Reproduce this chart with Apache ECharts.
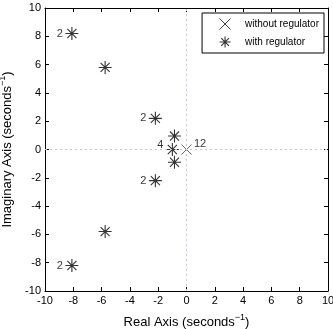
<!DOCTYPE html>
<html>
<head>
<meta charset="utf-8">
<script src="https://cdn.jsdelivr.net/npm/echarts@6/dist/echarts.min.js"></script>
<style>
  html, body { margin: 0; padding: 0; background: #fff; }
  #chart { width: 333px; height: 329px; }
</style>
</head>
<body>
<div id="chart"></div>
<script>
// pole data
const withoutRegPoles = [[0, 0]];
const withoutRegMult = ['12'];
const withRegPoles = [[-8.1, 8.2], [-5.75, 5.8], [-2.2, 2.2], [-1.0, 0], [-0.85, 0.95], [-0.85, -0.9], [-2.2, -2.2], [-5.75, -5.8], [-8.1, -8.2]];
const withRegMult = ['2', '', '2', '4', '', '', '2', '', '2'];
const axisMin = -10, axisMax = 10, axisStep = 2;

const starPath = 'path://M0 5L10 5M5 0L5 10M1.5 1.5L8.5 8.5M1.5 8.5L8.5 1.5';
const crossPath = 'path://M0 0L10 10M0 10L10 0';
const font = 'Liberation Sans, Arial, sans-serif';

const chart = echarts.init(document.getElementById('chart'));

function axisName(txt) {
  return '{a|' + txt + ' (seconds}{s|−1}{a|)}';
}
const nameRich = {
  a: { fontSize: 13, fontFamily: font, color: '#000' },
  s: { fontSize: 9, fontFamily: font, color: '#000', padding: [0, 0, 10, 0] }
};

function valAxis(extra) {
  return Object.assign({
    type: 'value', min: axisMin, max: axisMax, interval: axisStep,
    axisLine: { show: true, onZero: false, lineStyle: { color: '#000', width: 1 } },
    axisTick: { show: true, inside: true, length: 4, lineStyle: { color: '#000' } },
    axisLabel: { color: '#000', fontSize: 11, fontFamily: font, margin: 4 },
    splitLine: { show: false }
  }, extra);
}

function labelsFor(mult, pos) {
  return mult.map(function (m) {
    return { show: m !== '', formatter: m, position: pos, distance: 0, color: '#000', fontSize: 11, fontFamily: font };
  });
}

const withData = withRegPoles.map(function (p, i) {
  const lab = labelsFor(withRegMult, 'left')[i];
  if (withRegMult[i] === '4') lab.offset = [0, -5];
  return { value: p, label: lab };
});
const withoutData = withoutRegPoles.map(function (p, i) {
  const lab = labelsFor(withoutRegMult, 'right')[i];
  lab.offset = [0, -6];
  return { value: p, label: lab };
});

const starStyle = { color: 'none', borderColor: '#000', borderWidth: 1.1 };
const crossStyle = { color: 'none', borderColor: '#3a3f55', borderWidth: 1 };

chart.setOption({
  animation: false,
  grid: { left: 45, right: 5, top: 8, bottom: 38, outerBoundsMode: 'none', containLabel: false },
  legend: {
    right: 9, top: 13, orient: 'vertical',
    padding: [3, 5, 3, 15],
    itemWidth: 20, itemHeight: 11, itemGap: 2,
    borderColor: '#000', borderWidth: 1, borderRadius: 0,
    textStyle: { fontSize: 10, fontFamily: font, color: '#000', padding: [0, 0, 0, 5] },
    data: [
      { name: 'without regulator', icon: crossPath, itemStyle: { color: 'none', borderColor: '#000', borderWidth: 1 } },
      { name: 'with regulator', icon: starPath, itemStyle: starStyle }
    ]
  },
  xAxis: [
    valAxis({ position: 'bottom', name: axisName('Real Axis'), nameLocation: 'middle', nameGap: 22, nameTextStyle: { rich: nameRich } }),
    valAxis({ position: 'top', axisLabel: { show: false } })
  ],
  yAxis: [
    valAxis({ position: 'left', name: axisName('Imaginary Axis'), nameLocation: 'middle', nameGap: 26, nameRotate: 90, nameTextStyle: { rich: nameRich } }),
    valAxis({ position: 'right', axisLabel: { show: false } })
  ],
  series: [
    {
      name: 'without regulator', type: 'scatter', symbol: crossPath, symbolSize: 10,
      itemStyle: crossStyle,
      data: withoutData,
      z: 3,
      markLine: {
        silent: true, symbol: 'none', label: { show: false },
        lineStyle: { type: [2, 3], color: '#c4c4de', width: 1 },
        data: [{ xAxis: 0 }, { yAxis: 0 }]
      }
    },
    {
      name: 'with regulator', type: 'scatter', symbol: starPath, symbolSize: 13,
      itemStyle: starStyle,
      data: withData,
      z: 4
    }
  ]
});
</script>
</body>
</html>
